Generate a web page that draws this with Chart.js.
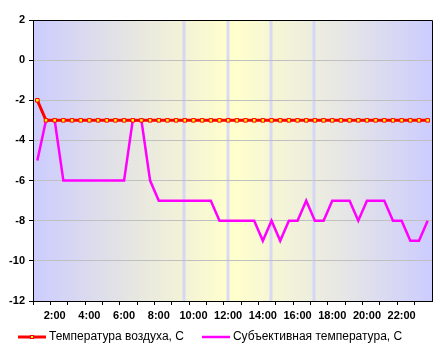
<!DOCTYPE html>
<html>
<head>
<meta charset="utf-8">
<script src="https://cdn.jsdelivr.net/npm/chart.js@4/dist/chart.umd.min.js"></script>
<style>
  html, body { margin: 0; padding: 0; background: #fff; }
  #wrap { width: 445px; height: 353px; }
</style>
</head>
<body>
<div id="wrap"><canvas id="temp-chart"></canvas></div>
<script>
// half-hour readings, 1:00 .. 23:30
const times = [];
for (let h = 1; h < 24; h++) {
  times.push(h + ':00');
  times.push(h + ':30');
}

const airTemp = [-2, -3, -3, -3, -3, -3, -3, -3, -3, -3, -3, -3, -3, -3, -3, -3,
  -3, -3, -3, -3, -3, -3, -3, -3, -3, -3, -3, -3, -3, -3, -3, -3,
  -3, -3, -3, -3, -3, -3, -3, -3, -3, -3, -3, -3, -3, -3];

const feltTemp = [-5, -3, -3, -6, -6, -6, -6, -6, -6, -6, -6, -3, -3, -6, -7, -7,
  -7, -7, -7, -7, -7, -8, -8, -8, -8, -8, -9, -8, -9, -8, -8, -7,
  -8, -8, -7, -7, -7, -8, -7, -7, -7, -8, -8, -9, -9, -8];

const seriesNames = ['Температура воздуха, С', 'Субъективная температура, С'];

// legend samples: 41px wide canvas, line sits in the right 28px
function legendIcon(color, width, marker) {
  const c = document.createElement('canvas');
  c.width = 41;
  c.height = 8;
  const g = c.getContext('2d');
  g.strokeStyle = color;
  g.lineWidth = width;
  g.beginPath();
  g.moveTo(13, 4);
  g.lineTo(41, 4);
  g.stroke();
  if (marker) {
    g.fillStyle = '#ffff00';
    g.fillRect(25, 2, 4, 4);
    g.lineWidth = 1;
    g.strokeRect(25.5, 2.5, 3, 3);
  }
  return c;
}
const legendIcons = [legendIcon('#ff0000', 3, true), legendIcon('#ff00ff', 2.5, false)];

const plotBackground = {
  id: 'plotBackground',
  beforeDraw(chart) {
    const { ctx, chartArea: a } = chart;
    const grad = ctx.createLinearGradient(a.left, 0, a.right, 0);
    grad.addColorStop(0, '#ccccff');
    grad.addColorStop(0.25, '#e6e6e2');
    grad.addColorStop(0.5, '#ffffcc');
    grad.addColorStop(0.78, '#e6e6e6');
    grad.addColorStop(1, '#ccccff');
    ctx.save();
    ctx.fillStyle = grad;
    ctx.fillRect(a.left, a.top, a.right - a.left, a.bottom - a.top);
    ctx.fillStyle = 'rgba(205, 205, 255, 0.75)';
    [0.378, 0.488, 0.597, 0.705].forEach(f => {
      const x = Math.round(a.left + f * (a.right - a.left));
      ctx.fillRect(x - 1.5, a.top, 3, a.bottom - a.top);
    });
    ctx.restore();
  },
  afterDraw(chart) {
    const { ctx, chartArea: a } = chart;
    ctx.save();
    ctx.strokeStyle = '#000';
    ctx.lineWidth = 1;
    ctx.beginPath();
    ctx.moveTo(a.left, a.top + 0.5);
    ctx.lineTo(a.right + 0.5, a.top + 0.5);
    ctx.lineTo(a.right + 0.5, a.bottom);
    ctx.stroke();
    ctx.restore();
  }
};

const tickFont = { family: 'Liberation Sans, Arial, sans-serif', size: 11, weight: 'bold' };

const tempChart = new Chart(document.querySelector('#temp-chart'), {
  type: 'line',
  data: {
    labels: times,
    datasets: [{
      label: seriesNames[0],
      data: airTemp,
      borderColor: '#ff0000',
      borderWidth: 3,
      pointStyle: 'rect',
      pointRadius: 2.5,
      pointBorderWidth: 1,
      pointBackgroundColor: '#ffff00',
      pointBorderColor: '#ff0000',
      tension: 0
    }, {
      label: seriesNames[1],
      data: feltTemp,
      borderColor: '#ff00ff',
      borderWidth: 2.5,
      pointRadius: 0,
      tension: 0
    }]
  },
  options: {
    responsive: true,
    maintainAspectRatio: false,
    animation: false,
    layout: {
      padding: { top: 20, right: 13, left: 0, bottom: 0 }
    },
    scales: {
      x: {
        offset: true,
        grid: {
          offset: true,
          drawOnChartArea: false,
          drawTicks: true,
          tickLength: 4,
          tickColor: ctx => (ctx.index % 2 === 0 ? '#000' : 'rgba(0,0,0,0)')
        },
        border: { color: '#000', width: 1 },
        ticks: {
          autoSkip: false,
          maxRotation: 0,
          padding: 4,
          color: '#000',
          font: tickFont,
          callback: (v, i) => ((i - 2) % 4 === 0 ? times[i] : '')
        },
        afterFit: scale => { scale.height = 22; }
      },
      y: {
        min: -12,
        max: 2,
        ticks: {
          stepSize: 2,
          padding: 4,
          color: '#000',
          font: tickFont
        },
        grid: {
          color: ctx => (ctx.tick.value === 2 || ctx.tick.value === -12 ? 'rgba(0,0,0,0)' : '#c0c0c0'),
          tickColor: '#000',
          tickLength: 4
        },
        border: { color: '#000', width: 1 },
        afterFit: scale => { scale.width = 33; }
      }
    },
    plugins: {
      legend: {
        position: 'bottom',
        align: 'start',
        labels: {
          usePointStyle: true,
          pointStyleWidth: 35,
          padding: 8,
          color: '#000',
          font: { family: 'Liberation Sans, Arial, sans-serif', size: 12 },
          generateLabels: chart => Chart.defaults.plugins.legend.labels.generateLabels(chart)
            .map((item, i) => ({ ...item, pointStyle: legendIcons[i] }))
        }
      },
      tooltip: { enabled: false }
    }
  },
  plugins: [plotBackground]
});
</script>
</body>
</html>
